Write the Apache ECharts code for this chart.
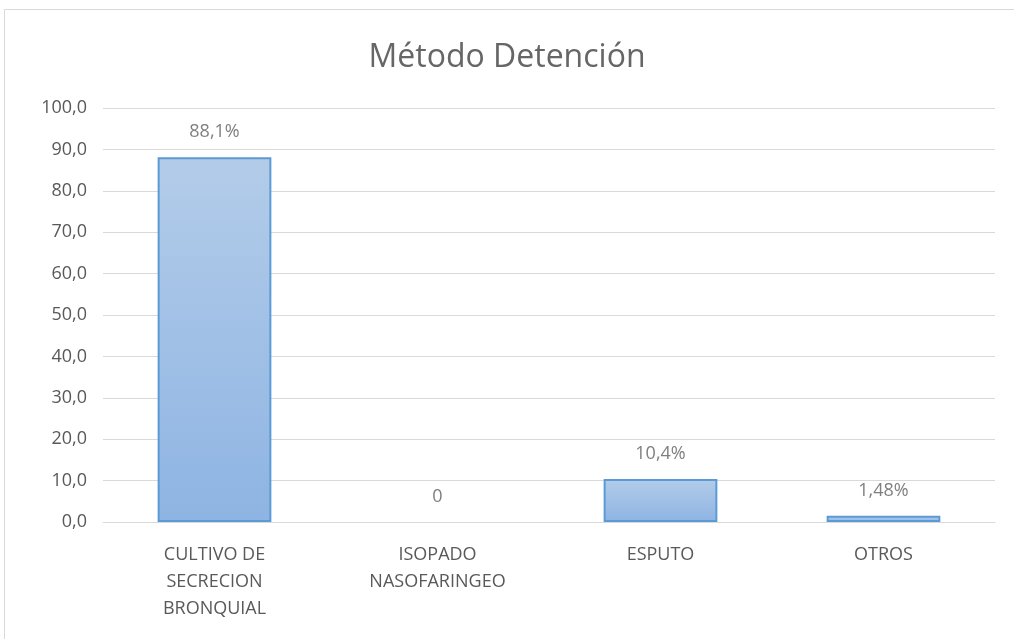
<!DOCTYPE html>
<html><head><meta charset="utf-8">
<script src="https://cdn.jsdelivr.net/npm/echarts@6/dist/echarts.min.js"></script>
<style>html,body{margin:0;padding:0;background:#fff}#c{width:1014px;height:639px}</style>
</head><body><div id="c"></div>
<script>
const categories = ["CULTIVO DE\nSECRECION\nBRONQUIAL", "ISOPADO\nNASOFARINGEO", "ESPUTO", "OTROS"];
const values = [88.1, 0, 10.4, 1.48];
const valueLabels = ["88,1%", "0", "10,4%", "1,48%"];
const titleText = "Método Detención";

const chart = echarts.init(document.getElementById('c'));
const font = "'Open Sans', 'Liberation Sans', sans-serif";
chart.setOption({
  animation: false,
  graphic: [{type:'rect', shape:{x:4.5,y:9.5,width:1020,height:640}, style:{fill:'none', stroke:'#d9d9d9', lineWidth:1}}],
  title: {text: titleText, left: 'center', top: 37, textStyle:{fontFamily: font, fontSize: 32, fontWeight: 'normal', color:'#666666'}},
  grid: {left: 103, right: 19, top: 108, bottom: 117},
  xAxis: {type:'category', data: categories,
    axisLine:{lineStyle:{color:'#d9d9d9'}}, axisTick:{show:false},
    axisLabel:{fontFamily: font, fontSize:18, color:'#595959', lineHeight:27, margin:19}},
  yAxis: {type:'value', min:0, max:100, interval:10,
    axisLine:{show:false}, axisTick:{show:false},
    splitLine:{lineStyle:{color:'#d9d9d9'}},
    axisLabel:{fontFamily: font, fontSize:18, color:'#595959', margin:16, formatter: v => v.toFixed(1).replace('.', ',')}},
  series: [{type:'bar', barCategoryGap:'49%',
    data: values.map(v => v === 0 ? {value: v, itemStyle:{borderWidth:0, opacity:0}} : v),
    itemStyle:{borderColor:'#5b9bd5', borderWidth:2,
      color: new echarts.graphic.LinearGradient(0,0,0,1,[{offset:0,color:'#b3cce9'},{offset:1,color:'#8eb4e3'}])},
    label:{show:true, position:'top', distance:16, fontFamily: font, fontSize:18, color:'#7f7f7f', opacity:1,
      formatter: p => valueLabels[p.dataIndex]}}]
});
</script></body></html>
